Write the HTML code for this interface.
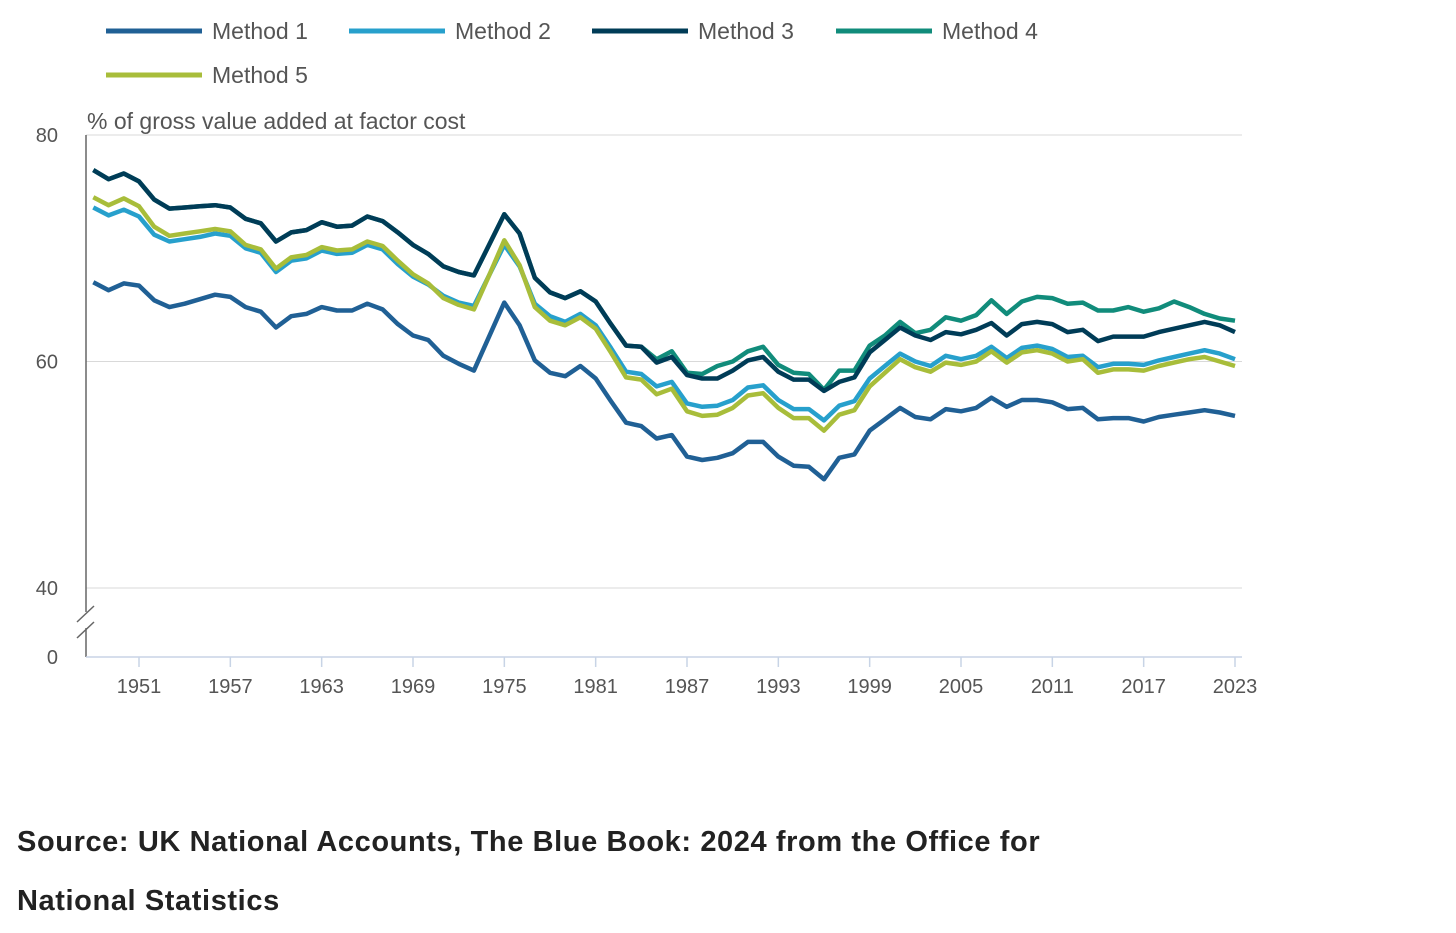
<!DOCTYPE html>
<html><head><meta charset="utf-8"><style>
body{margin:0;background:#fff;width:1456px;height:933px;overflow:hidden;font-family:"Liberation Sans","DejaVu Sans",sans-serif}
svg text{font-family:"Liberation Sans","DejaVu Sans",sans-serif}
.src{position:absolute;left:17px;font-weight:bold;font-size:29px;letter-spacing:0.6px;color:#222}
</style></head><body>
<svg id="chart" width="1456" height="800" style="position:absolute;left:0;top:0"></svg>
<div class="src" style="top:826px">Source: UK National Accounts, The Blue Book: 2024 from the Office for</div>
<div class="src" style="top:885px">National Statistics</div>
<script>
const years=[];for(let y=1948;y<=2023;y++)years.push(y);
const xTicks=[1951,1957,1963,1969,1975,1981,1987,1993,1999,2005,2011,2017,2023];
const yTicks=[40,60,80];
const seriesNames=["Method 1","Method 2","Method 3","Method 4","Method 5"];
const seriesColors=["#206095","#27a0cc","#003c57","#118c7b","#a8bd3a"];
const m1=[67.0,66.3,66.9,66.7,65.4,64.8,65.1,65.5,65.9,65.7,64.8,64.4,63.0,64.0,64.2,64.8,64.5,64.5,65.1,64.6,63.3,62.3,61.9,60.5,59.8,59.2,62.2,65.2,63.2,60.1,59.0,58.7,59.6,58.5,56.5,54.6,54.3,53.2,53.5,51.6,51.3,51.5,51.9,52.9,52.9,51.6,50.8,50.7,49.6,51.5,51.8,53.9,54.9,55.9,55.1,54.9,55.8,55.6,55.9,56.8,56.0,56.6,56.6,56.4,55.8,55.9,54.9,55.0,55.0,54.7,55.1,55.3,55.5,55.7,55.5,55.2];
const m2=[73.6,72.9,73.4,72.8,71.2,70.6,70.8,71.0,71.3,71.1,70.0,69.6,67.9,68.9,69.1,69.8,69.5,69.6,70.3,69.9,68.6,67.5,66.8,65.8,65.2,64.9,67.6,70.3,68.4,65.1,64.0,63.5,64.2,63.2,61.2,59.1,58.9,57.8,58.2,56.3,56.0,56.1,56.6,57.7,57.9,56.6,55.8,55.8,54.8,56.1,56.5,58.5,59.6,60.7,60.0,59.6,60.5,60.2,60.5,61.3,60.3,61.2,61.4,61.1,60.4,60.5,59.5,59.8,59.8,59.7,60.1,60.4,60.7,61.0,60.7,60.2];
const m3=[76.9,76.1,76.6,75.9,74.3,73.5,73.6,73.7,73.8,73.6,72.6,72.2,70.6,71.4,71.6,72.3,71.9,72.0,72.8,72.4,71.4,70.3,69.5,68.4,67.9,67.6,70.3,73.0,71.3,67.4,66.1,65.6,66.2,65.3,63.3,61.4,61.3,59.9,60.4,58.8,58.5,58.5,59.2,60.1,60.4,59.1,58.4,58.4,57.4,58.2,58.6,60.8,61.9,63.0,62.3,61.9,62.6,62.4,62.8,63.4,62.3,63.3,63.5,63.3,62.6,62.8,61.8,62.2,62.2,62.2,62.6,62.9,63.2,63.5,63.2,62.6];
const m4=[76.9,76.1,76.6,75.9,74.3,73.5,73.6,73.7,73.8,73.6,72.6,72.2,70.6,71.4,71.6,72.3,71.9,72.0,72.8,72.4,71.4,70.3,69.5,68.4,67.9,67.6,70.3,73.0,71.3,67.4,66.1,65.6,66.2,65.3,63.3,61.4,61.3,60.2,60.9,59.0,58.9,59.6,60.0,60.9,61.3,59.7,59.0,58.9,57.5,59.2,59.2,61.4,62.3,63.5,62.5,62.8,63.9,63.6,64.1,65.4,64.2,65.3,65.7,65.6,65.1,65.2,64.5,64.5,64.8,64.4,64.7,65.3,64.8,64.2,63.8,63.6];
const m5=[74.5,73.8,74.4,73.7,71.9,71.1,71.3,71.5,71.7,71.5,70.3,69.9,68.2,69.2,69.4,70.1,69.8,69.9,70.6,70.2,68.9,67.7,66.9,65.6,65.0,64.6,67.6,70.7,68.5,64.8,63.6,63.2,63.9,62.9,60.8,58.6,58.4,57.1,57.6,55.6,55.2,55.3,55.9,57.0,57.2,55.9,55.0,55.0,53.9,55.3,55.7,57.8,59.0,60.2,59.5,59.1,59.9,59.7,60.0,60.9,59.9,60.8,61.0,60.7,60.0,60.2,59.0,59.3,59.3,59.2,59.6,59.9,60.2,60.4,60.0,59.6];

const NS="http://www.w3.org/2000/svg";
const svg=document.getElementById('chart');
function el(t,a,p){const e=document.createElementNS(NS,t);for(const k in a)e.setAttribute(k,a[k]);(p||svg).appendChild(e);return e;}
const x=yr=>139+(yr-1951)*(1235-139)/72;
const y=v=>135+(80-v)*(588-135)/40;
const X0=86, X1=1242, Y0=657;

yTicks.forEach(t=>{
  const g=el('line',{x1:X0,x2:X1,y1:y(t),y2:y(t),stroke:'#d9d9d9','stroke-width':1});
  
  
  const tx=el('text',{x:58,y:y(t)+7,'text-anchor':'end','font-size':20,fill:'#555'});
  tx.textContent=t;
  
  
});
const z=el('text',{x:58,y:Y0+7,'text-anchor':'end','font-size':20,fill:'#555'});z.textContent='0';


const yt=el('text',{x:87,y:129,'font-size':23,fill:'#555'});yt.textContent='% of gross value added at factor cost';



const ya=el('path',{d:`M${X0} 135 V612 M${X0} 628 V${Y0}`,stroke:'#666','stroke-width':1.5,fill:'none'});


const br=el('path',{d:`M77 622 L94 606 M77 638 L94 622`,stroke:'#666','stroke-width':1.5,fill:'none'});


const xa=el('line',{x1:X0,x2:X1,y1:Y0,y2:Y0,stroke:'#c8d4e6','stroke-width':1.5});


xTicks.forEach(t=>{
  const tk=el('line',{x1:x(t),x2:x(t),y1:Y0,y2:Y0+10,stroke:'#c8d4e6','stroke-width':1.5});
  
  
  const tx=el('text',{x:x(t),y:693,'text-anchor':'middle','font-size':20,fill:'#555'});
  tx.textContent=t;
  
  
});

const data=[m1,m2,m3,m4,m5];
[3,0,1,2,4].forEach(i=>{
  const d=data[i].map((v,j)=>(j?'L':'M')+x(years[j]).toFixed(1)+' '+y(v).toFixed(1)).join(' ');
  const p=el('path',{d:d,stroke:seriesColors[i],'stroke-width':4.5,fill:'none','stroke-linejoin':'round'});
  
  
});

const lpos=[[106,31],[349,31],[592,31],[836,31],[106,75]];
seriesNames.forEach((n,i)=>{
  const g=el('g',{});
  
  
  const [lx,ly]=lpos[i];
  el('line',{x1:lx,x2:lx+96,y1:ly,y2:ly,stroke:seriesColors[i],'stroke-width':5},g);
  const t=el('text',{x:lx+106,y:ly+8,'font-size':23,fill:'#555'},g);t.textContent=n;
});
</script>
</body></html>
